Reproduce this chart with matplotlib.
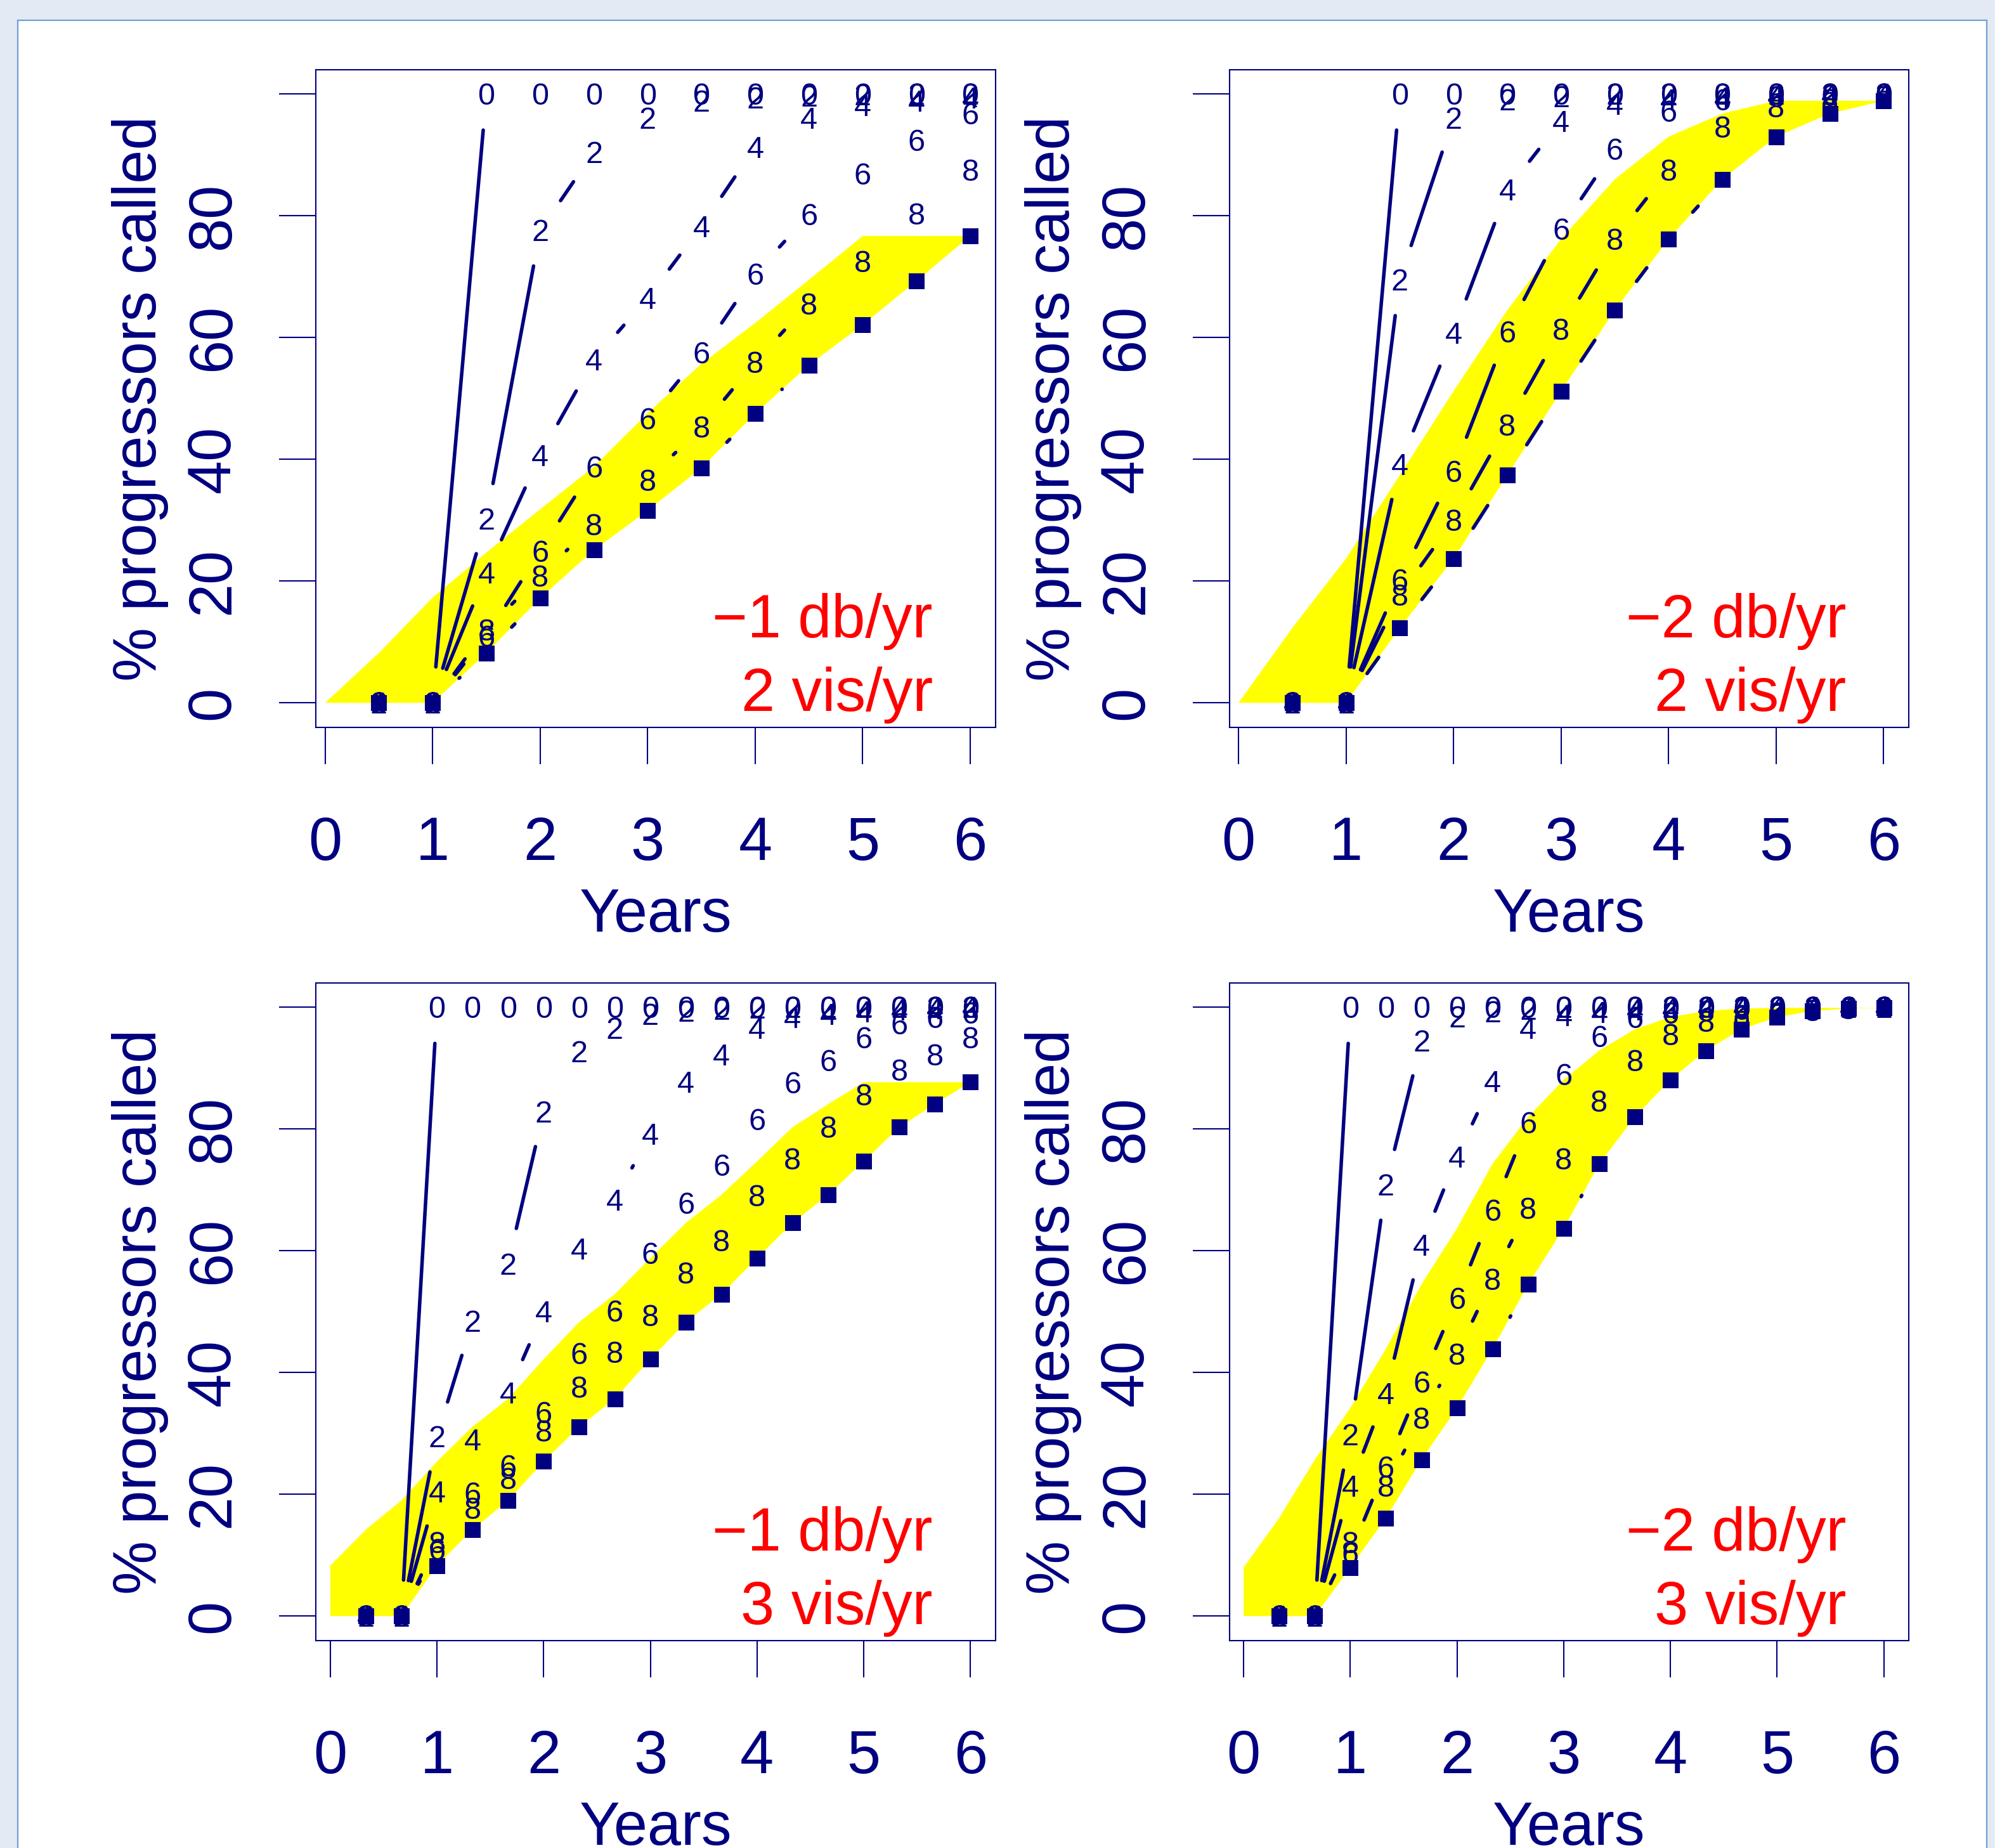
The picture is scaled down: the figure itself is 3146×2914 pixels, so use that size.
import numpy as np
import matplotlib
matplotlib.use('Agg')
import matplotlib.pyplot as plt
from matplotlib.patches import Rectangle, Polygon

plt.rcParams['font.family'] = ['Liberation Sans', 'DejaVu Sans']

NAVY = '#000080'
PX = 0.72  # pixels -> points at dpi 100

# x positions of the visits
x_2vis = [0.5, 1.0, 1.5, 2.0, 2.5, 3.0, 3.5, 4.0, 4.5, 5.0, 5.5, 6.0]
x_3vis = [0.333, 0.667, 1.0, 1.333, 1.667, 2.0, 2.333, 2.667, 3.0, 3.333,
          3.667, 4.0, 4.333, 4.667, 5.0, 5.333, 5.667, 6.0]
band_x_2vis = [0.0] + x_2vis
band_x_3vis = [0.0] + x_3vis

# top left: -1 db/yr, 2 vis/yr
tl_s0 = [0, 0, 100, 100, 100, 100, 100, 100, 100, 100, 100, 100]
tl_s2 = [0, 0, 30.2, 77.6, 90.5, 96.1, 98.9, 99.4, 99.7, 99.9, 100, 100]
tl_s4 = [0, 0, 21.4, 40.7, 56.4, 66.5, 78.3, 91.3, 96.1, 98.2, 98.9, 99.4]
tl_s6 = [0, 0, 11.0, 24.9, 38.8, 46.7, 57.5, 70.5, 80.2, 86.9, 92.4, 96.8]
tl_s8 = [0, 0, 12.0, 20.9, 29.3, 36.6, 45.3, 56.0, 65.6, 72.5, 80.3, 87.5]
tl_sq = [0, 0, 8.2, 17.2, 25.1, 31.6, 38.6, 47.5, 55.5, 62.1, 69.3, 76.7]
tl_hi = [0, 8.2, 17.3, 24.7, 31.8, 38.8, 47.6, 55.7, 62.4, 69.5, 76.7, 76.7, 76.7]

# top right: -2 db/yr, 2 vis/yr
tr_s0 = [0, 0, 100, 100, 100, 100, 100, 100, 100, 100, 100, 100]
tr_s2 = [0, 0, 69.5, 96.1, 99.1, 99.6, 100, 100, 100, 100, 100, 100]
tr_s4 = [0, 0, 39.2, 60.8, 84.3, 95.6, 98.4, 99.1, 99.4, 99.7, 99.9, 100]
tr_s6 = [0, 0, 20.2, 38.1, 61.0, 77.9, 91.0, 97.2, 99.1, 99.6, 99.8, 100]
tr_s8 = [0, 0, 17.7, 30.0, 45.7, 61.4, 76.2, 87.5, 94.6, 98.0, 99.1, 99.6]
tr_sq = [0, 0, 12.3, 23.7, 37.4, 51.2, 64.5, 76.2, 86.0, 93.0, 96.8, 98.9]
tr_hi = [0, 12.3, 23.7, 37.4, 51.2, 64.5, 76.2, 86.0, 93.0, 96.8, 98.9, 98.9, 98.9]

# bottom left: -1 db/yr, 3 vis/yr
bl_s0 = [0, 0, 100, 100, 100, 100, 100, 100, 100, 100, 100, 100, 100, 100, 100, 100, 100, 100]
bl_s2 = [0, 0, 29.5, 48.5, 57.9, 82.9, 92.7, 96.6, 98.9, 99.4, 99.7, 99.9, 100, 100, 100, 100, 100, 100]
bl_s4 = [0, 0, 20.5, 29.0, 36.7, 50.0, 60.3, 68.4, 79.2, 87.7, 92.2, 96.6, 98.4, 98.9, 99.3, 99.6, 99.8, 100]
bl_s6 = [0, 0, 11.0, 20.2, 24.7, 33.5, 43.2, 50.1, 59.6, 67.9, 74.1, 81.6, 87.6, 91.3, 95.0, 97.3, 98.4, 99.1]
bl_s8 = [0, 0, 12.1, 17.7, 22.6, 30.4, 37.6, 43.4, 49.4, 56.4, 61.7, 69.1, 75.1, 80.3, 85.7, 89.7, 92.2, 95.0]
bl_sq = [0, 0, 8.3, 14.2, 19.0, 25.4, 31.1, 35.7, 42.2, 48.3, 52.9, 58.8, 64.6, 69.2, 74.7, 80.3, 84.1, 87.7]
bl_hi = [8.3, 14.2, 19.0, 25.4, 31.1, 35.7, 42.2, 48.3, 52.9, 58.8, 64.6, 69.2, 74.7, 80.3, 84.1,
         87.7, 87.7, 87.7, 87.7]

# bottom right: -2 db/yr, 3 vis/yr
br_s0 = [0, 0, 100, 100, 100, 100, 100, 100, 100, 100, 100, 100, 100, 100, 100, 100, 100, 100]
br_s2 = [0, 0, 29.8, 70.9, 94.5, 98.5, 99.3, 99.7, 100, 100, 100, 100, 100, 100, 100, 100, 100, 100]
br_s4 = [0, 0, 21.4, 36.6, 61.0, 75.5, 87.9, 96.6, 98.7, 99.2, 99.6, 99.8, 100, 100, 100, 100, 100, 100]
br_s6 = [0, 0, 10.3, 24.5, 38.5, 52.2, 66.7, 81.1, 89.0, 95.2, 98.4, 99.1, 99.4, 99.7, 100, 100, 100, 100]
br_s8 = [0, 0, 12.1, 21.4, 32.5, 43.1, 55.4, 67.0, 75.1, 84.6, 91.3, 95.6, 97.7, 98.7, 99.1, 99.5, 99.8, 100]
br_sq = [0, 0, 8.0, 16.1, 25.7, 34.2, 43.9, 54.5, 63.7, 74.3, 82.0, 88.1, 92.9, 96.4, 98.4, 99.4, 99.8, 99.9]
br_hi = [8.0, 16.1, 25.7, 34.2, 43.9, 54.5, 63.7, 74.3, 82.0, 88.1, 92.9, 96.4, 98.4, 99.4, 99.8,
         99.9, 99.9, 99.9, 99.9]

series_labels = ['0', '2', '4', '6', '8']
x_ticks = [0, 1, 2, 3, 4, 5, 6]
y_ticks = [0, 20, 40, 60, 80, 100]
y_ticklabels = ['0', '20', '40', '60', '80', '']

panels = [
    dict(pos=(0.15839, 0.60649), xlim=(-0.085, 6.236), x=x_2vis, bx=band_x_2vis,
         s=[tl_s0, tl_s2, tl_s4, tl_s6, tl_s8], sq=tl_sq, hi=tl_hi, txt=('\u22121 db/yr', '2 vis/yr')),
    dict(pos=(0.61622, 0.60649), xlim=(-0.085, 6.236), x=x_2vis, bx=band_x_2vis,
         s=[tr_s0, tr_s2, tr_s4, tr_s6, tr_s8], sq=tr_sq, hi=tr_hi, txt=('\u22122 db/yr', '2 vis/yr')),
    dict(pos=(0.15839, 0.11232), xlim=(-0.134, 6.236), x=x_3vis, bx=band_x_3vis,
         s=[bl_s0, bl_s2, bl_s4, bl_s6, bl_s8], sq=bl_sq, hi=bl_hi, txt=('\u22121 db/yr', '3 vis/yr')),
    dict(pos=(0.61622, 0.11232), xlim=(-0.134, 6.236), x=x_3vis, bx=band_x_3vis,
         s=[br_s0, br_s2, br_s4, br_s6, br_s8], sq=br_sq, hi=br_hi, txt=('\u22122 db/yr', '3 vis/yr')),
]

GAP = 57  # px gap around each plotted point (R type="b")


def broken_line(ax, xs, ys):
    pts = ax.transData.transform(np.column_stack([xs, ys]))
    inv = ax.transData.inverted()
    for p0, p1 in zip(pts[:-1], pts[1:]):
        d = np.hypot(*(p1 - p0))
        if d > 2 * GAP:
            f = GAP / d
            a = p0 + f * (p1 - p0)
            b = p1 - f * (p1 - p0)
            seg = inv.transform([a, b])
            ax.plot(seg[:, 0], seg[:, 1], color=NAVY, lw=4.0,
                    solid_capstyle='round', zorder=2)


fig = plt.figure(figsize=(31.46, 29.14), dpi=100)
fig.patch.set_facecolor('#E3EAF4')
card = Rectangle((28 / 3146, -0.01), (3133 - 28) / 3146, 1 - 32 / 2914 + 0.01,
                 transform=fig.transFigure, facecolor='white',
                 edgecolor='#6F9FD6', lw=1.6, zorder=-10)
fig.patches.append(card)

for p in panels:
    ax = fig.add_axes([p['pos'][0], p['pos'][1], 0.34065, 0.35577])
    ax.set_zorder(1)
    ax.patch.set_alpha(0)
    ax.set_xlim(*p['xlim'])
    ax.set_ylim(-4, 104)
    for sp in ax.spines.values():
        sp.set_color(NAVY)
        sp.set_linewidth(1.5)
    ax.set_xticks(x_ticks)
    ax.set_yticks(y_ticks)
    ax.tick_params(direction='out', length=58 * PX, width=1.5, color=NAVY,
                   labelbottom=False, labelleft=False)

    # yellow band
    lo = [0.0] + p['sq']
    poly = list(zip(p['bx'], p['hi'])) + list(zip(p['bx'][::-1], lo[::-1]))
    ax.add_patch(Polygon(poly, closed=True, facecolor='#FFFF00', edgecolor='none', zorder=1))

    for lab, ys in zip(series_labels, p['s']):
        broken_line(ax, p['x'], ys)
        for xv, yv in zip(p['x'], ys):
            ax.annotate(lab, xy=(xv, yv), xytext=(0, -17 * PX), textcoords='offset points',
                        ha='center', va='baseline', fontsize=35, color=NAVY, zorder=3)
    broken_line(ax, p['x'], p['sq'])
    ax.plot(p['x'], p['sq'], linestyle='none', marker='s', markersize=18,
            color=NAVY, markeredgewidth=0, zorder=4)

    # axis text
    for v in x_ticks:
        ax.annotate(str(v), xy=(v, 0), xycoords=('data', 'axes fraction'),
                    xytext=(0, -209 * PX), textcoords='offset points',
                    ha='center', va='baseline', fontsize=68.8, color=NAVY, annotation_clip=False)
    for v, lab in zip(y_ticks, y_ticklabels):
        if lab:
            ax.annotate(lab, xy=(0, v), xycoords=('axes fraction', 'data'),
                        xytext=(-136.6 * PX, 0), textcoords='offset points',
                        rotation=90, rotation_mode='anchor', ha='center', va='baseline',
                        fontsize=68.8, color=NAVY, annotation_clip=False)
    ax.annotate('% progressors called', xy=(0, 0.5), xycoords='axes fraction',
                xytext=(-252.3 * PX, 0), textcoords='offset points',
                rotation=90, rotation_mode='anchor', ha='center', va='baseline',
                fontsize=68.8, color=NAVY, annotation_clip=False)
    ax.annotate('Years', xy=(0.5, 0), xycoords='axes fraction',
                xytext=(0, -322.6 * PX), textcoords='offset points',
                ha='center', va='baseline', fontsize=68.8, color=NAVY, annotation_clip=False)
    ax.annotate(p['txt'][0], xy=(1, 0), xycoords='axes fraction',
                xytext=(-99 * PX, 141.4 * PX), textcoords='offset points',
                ha='right', va='baseline', fontsize=68.8, color='#FF0000')
    ax.annotate(p['txt'][1], xy=(1, 0), xycoords='axes fraction',
                xytext=(-99 * PX, 25.2 * PX), textcoords='offset points',
                ha='right', va='baseline', fontsize=68.8, color='#FF0000')

fig.savefig('out.png', dpi=100, facecolor=fig.get_facecolor())
